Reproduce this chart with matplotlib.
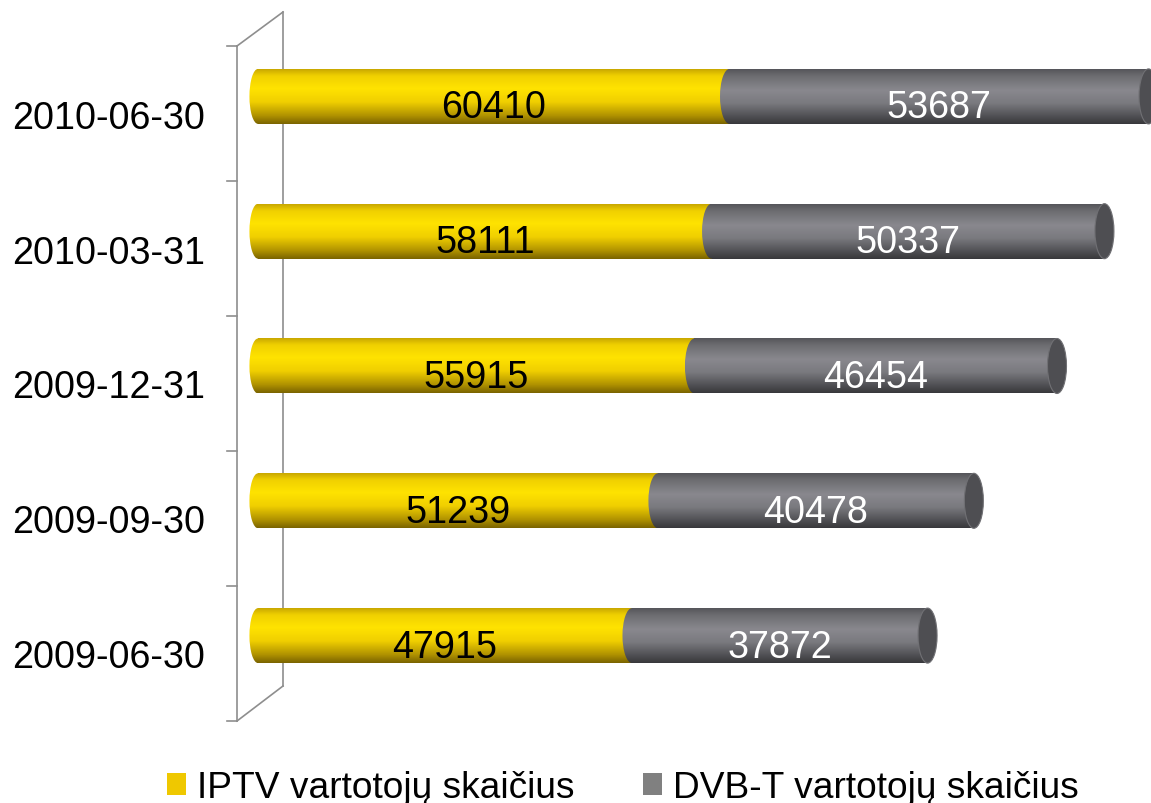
import matplotlib
matplotlib.use("Agg")
import matplotlib.pyplot as plt
import numpy as np
from matplotlib.colors import LinearSegmentedColormap
from matplotlib.patches import Ellipse, Patch
from matplotlib.lines import Line2D
from matplotlib.transforms import ScaledTranslation

# data (bottom to top)
dates = ["2009-06-30", "2009-09-30", "2009-12-31", "2010-03-31", "2010-06-30"]
iptv = [47915, 51239, 55915, 58111, 60410]
dvbt = [37872, 40478, 46454, 50337, 53687]
series_names = ["IPTV vartotojų skaičius", "DVB-T vartotojų skaičius"]

W, H, DPI = 1151, 804, 100
FS = 27.2
LEG_FS = 26.7
PX = 1000 / 7.805          # data units per pixel along x
ZERO_PX = 258              # pixel column of x = 0
AX_LEFT = 238              # axes left edge in pixels (room for rounded end)

plt.rcParams["font.family"] = ["Liberation Sans", "DejaVu Sans"]

yellow_cmap = LinearSegmentedColormap.from_list("cyl_yellow", [
    (0.0, "#C9A800"), (0.12, "#F0D000"), (0.35, "#FFE300"),
    (0.6, "#F0CF00"), (0.85, "#B09200"), (1.0, "#7A6400")])
gray_cmap = LinearSegmentedColormap.from_list("cyl_gray", [
    (0.0, "#55555A"), (0.12, "#6C6C70"), (0.38, "#89888E"),
    (0.62, "#7A7A7F"), (0.86, "#505054"), (1.0, "#38383B")])
grad = np.linspace(0, 1, 128).reshape(-1, 1)

fig = plt.figure(figsize=(W / DPI, H / DPI), dpi=DPI)
ax = fig.add_axes([AX_LEFT / W, 1 - 704 / H, 1 - AX_LEFT / W, (704 - 30) / H])


def cylinder_part(x0, x1, y, h, cmap, z):
    ax.imshow(grad, cmap=cmap, extent=[x0, x1, y - h / 2, y + h / 2],
              aspect="auto", origin="upper", interpolation="bilinear", zorder=z)


def rounded_end(xc, y, w, h, cmap, z):
    im = ax.imshow(grad, cmap=cmap, extent=[xc - w / 2, xc + w / 2, y - h / 2, y + h / 2],
                   aspect="auto", origin="upper", interpolation="bilinear", zorder=z)
    im.set_clip_path(Ellipse((xc, y), w, h, transform=ax.transData))


bar_h = 0.408
cap_w = 19 * PX
ypos = np.arange(len(dates))
for i, (a, b) in enumerate(zip(iptv, dvbt)):
    rounded_end(0, i, cap_w * 0.9, bar_h, yellow_cmap, 1)
    cylinder_part(0, a, i, bar_h, yellow_cmap, 1)
    rounded_end(a, i, cap_w, bar_h, gray_cmap, 2)
    cylinder_part(a, a + b, i, bar_h, gray_cmap, 2)
    ax.add_patch(Ellipse((a + b, i), cap_w, bar_h, facecolor="#4E4E52",
                         edgecolor="#707074", lw=0.8, zorder=3))
    off = ax.transData + ScaledTranslation(0, -21 / DPI, fig.dpi_scale_trans)
    ax.text(a / 2, i, str(a), ha="center", va="baseline", fontsize=FS,
            color="black", transform=off, zorder=6)
    ax.text(a + b / 2, i, str(b), ha="center", va="baseline", fontsize=FS,
            color="white", transform=off, zorder=6)

ax.set_xlim((AX_LEFT - ZERO_PX) * PX, (W - ZERO_PX) * PX)
ax.set_ylim(-0.5, 4.5)
ax.set_frame_on(False)
ax.set_xticks([])
ax.set_yticks(ypos, dates)
ax.tick_params(axis="y", length=0, pad=(AX_LEFT - 205) * 72 / DPI, labelsize=FS)
for lbl in ax.get_yticklabels():
    lbl.set_va("baseline")
    lbl.set_transform(lbl.get_transform()
                      + ScaledTranslation(0, -31.5 / DPI, fig.dpi_scale_trans))

# 3d side wall (decoration)
wall_color = "#8E8E8E"


def fline(xs, ys):
    fig.add_artist(Line2D([x / W for x in xs], [1 - y / H for y in ys],
                          transform=fig.transFigure, color=wall_color,
                          lw=1.2, zorder=-1))


fline([237, 237], [47, 722])
fline([283, 283], [13, 687])
fline([237, 283], [47, 13])
fline([237, 283], [722, 687])
for ty in np.linspace(47, 722, 6):
    fline([227, 237], [ty, ty])

handles = [Patch(facecolor="#EFC800"), Patch(facecolor="#808080")]
fig.legend(handles, series_names, loc="lower left", bbox_to_anchor=(167 / W, -2 / H),
           ncol=2, frameon=False, fontsize=LEG_FS, handlelength=0.52, handleheight=0.52,
           handletextpad=0.3, columnspacing=1.83, borderpad=0, borderaxespad=0)

fig.savefig("out.png", dpi=DPI)
